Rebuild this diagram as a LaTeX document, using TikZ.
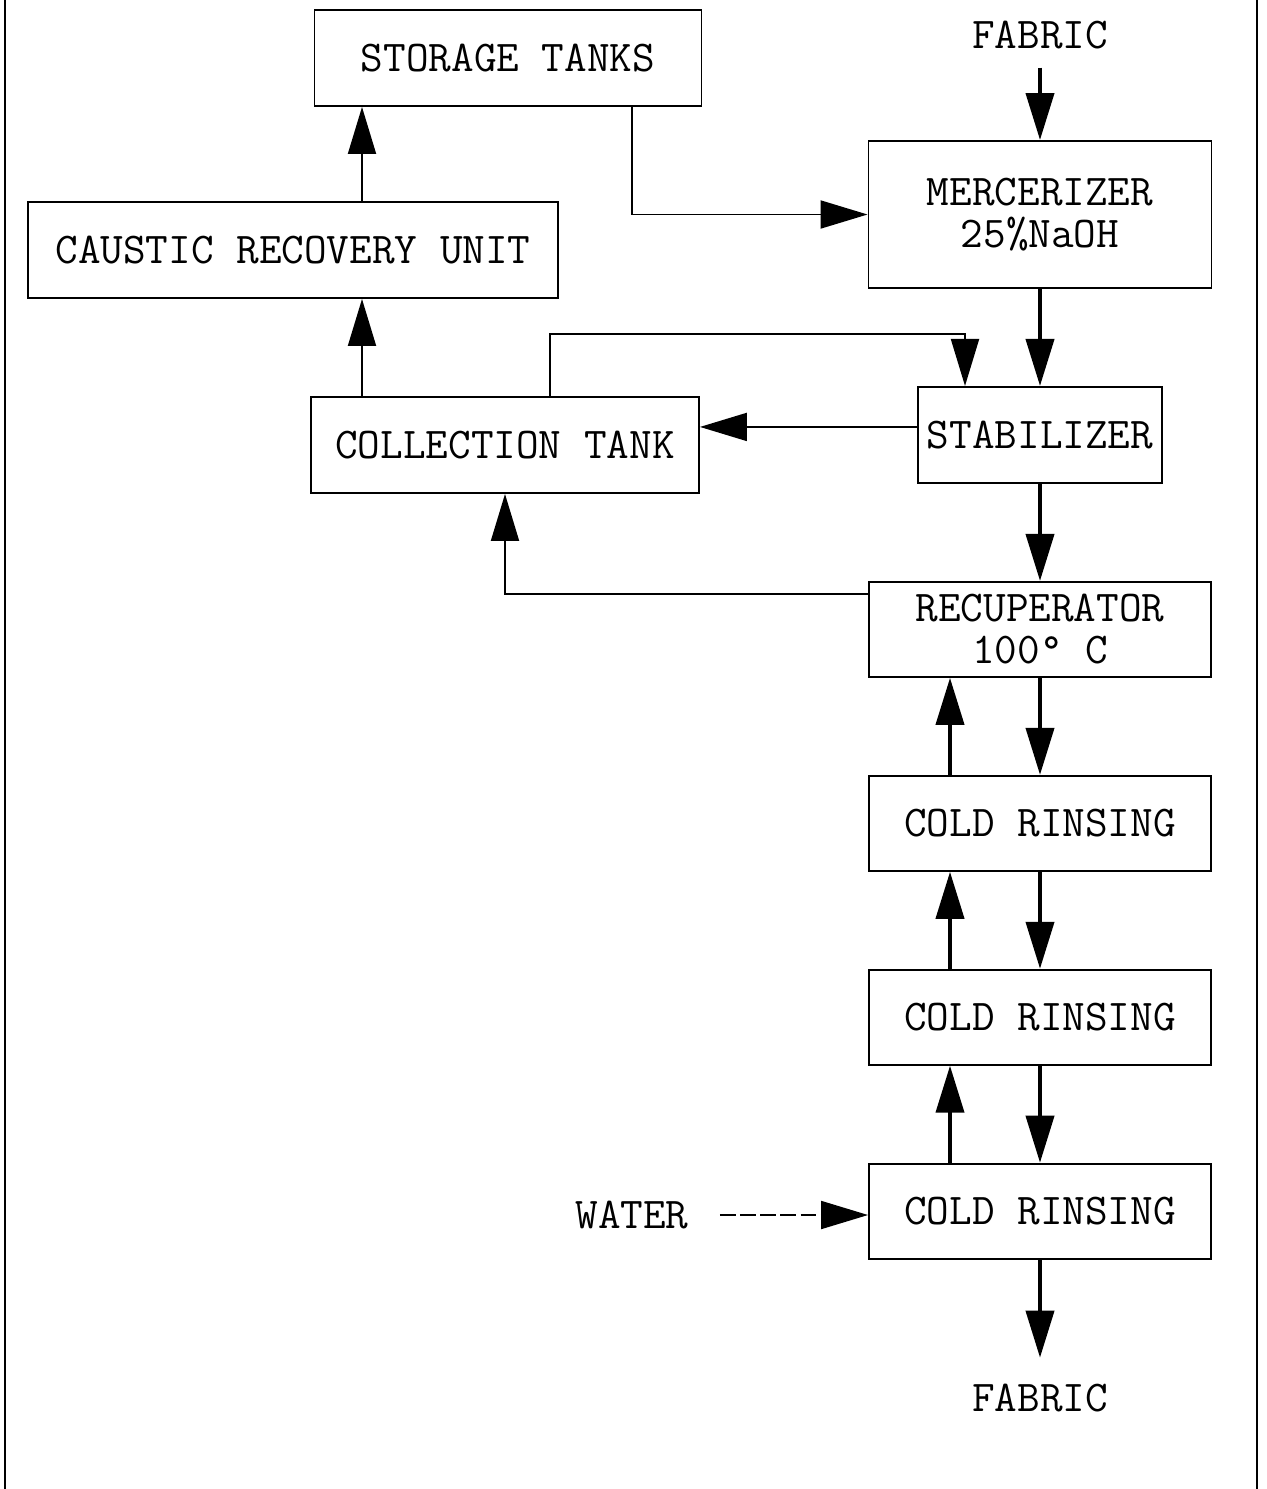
\documentclass[tikz,border=0pt]{standalone}
\usepackage{tikz}
\usetikzlibrary{arrows.meta, positioning}

\begin{document}
\begin{tikzpicture}[
  node distance=1.94cm,
  box/.style={draw, rectangle, line width=1.1pt, inner sep=0pt, align=center,
              font=\ttfamily\fontsize{25}{24}\selectfont},
  lbl/.style={font=\ttfamily\fontsize{25}{24}\selectfont},
  arr/.style={-{Triangle[length=0.94cm, width=0.56cm]}, line width=1.1pt},
  flow/.style={-{Triangle[length=0.94cm, width=0.56cm]}, line width=2.3pt}
]
  \useasboundingbox (0,0) rectangle (25.34,-29.78);
  % side rules of the page
  \draw[line width=1pt] (0.1,0) -- (0.1,-29.78);
  \draw[line width=1pt] (25.14,0) -- (25.14,-29.78);

  % main line
  \node[box, minimum width=6.86cm, minimum height=2.94cm] (mer) at (20.8,-4.29) {MERCERIZER\\25\%NaOH};
  \node[lbl, above=1.7cm of mer] (fabin) {FABRIC};
  \node[box, minimum width=4.88cm, minimum height=1.92cm, below=of mer] (stab) {STABILIZER};
  \node[box, minimum width=6.84cm, minimum height=1.9cm, below=of stab] (rec) {RECUPERATOR\\100° C};
  \node[box, minimum width=6.84cm, minimum height=1.9cm, below=of rec] (cold1) {COLD RINSING};
  \node[box, minimum width=6.84cm, minimum height=1.9cm, below=of cold1] (cold2) {COLD RINSING};
  \node[box, minimum width=6.84cm, minimum height=1.9cm, below=of cold2] (cold3) {COLD RINSING};
  \node[lbl, below=2.36cm of cold3] (fabout) {FABRIC};
  \node[lbl] (water) at (12.64,-24.3) {WATER};

  % caustic recovery side
  \node[box, minimum width=7.74cm, minimum height=1.92cm] (stor) at (10.16,-1.16) {STORAGE TANKS};
  \node[box, minimum width=10.6cm, minimum height=1.92cm] (caus) at (5.86,-5.0) {CAUSTIC RECOVERY UNIT};
  \node[box, minimum width=7.76cm, minimum height=1.92cm] (coll) at (10.10,-8.9) {COLLECTION TANK};

  \draw[flow, shorten <=0.25cm] (fabin) -- (mer);
  \draw[flow] (mer) -- (stab);
  \draw[flow] (stab) -- (rec);
  \draw[flow] (rec) -- (cold1);
  \draw[flow] (cold1) -- (cold2);
  \draw[flow] (cold2) -- (cold3);
  \draw[flow, shorten >=0.4cm] (cold3) -- (fabout);
  \draw[flow] ([xshift=-1.8cm]cold1.north) -- ([xshift=-1.8cm]rec.south);
  \draw[flow] ([xshift=-1.8cm]cold2.north) -- ([xshift=-1.8cm]cold1.south);
  \draw[flow] ([xshift=-1.8cm]cold3.north) -- ([xshift=-1.8cm]cold2.south);
  \draw[arr, dash pattern=on 9pt off 2.5pt, shorten <=0.5cm] (water) -- (water -| cold3.west);

  \draw[arr] ([xshift=2.48cm]stor.south) |- (mer.west);
  \draw[arr] ([xshift=1.38cm]caus.north) -- ([xshift=1.38cm]caus.north |- stor.south);
  \draw[arr] ([xshift=-2.86cm]coll.north) -- ([xshift=-2.86cm]coll.north |- caus.south);
  \draw[arr] ([xshift=0.9cm]coll.north) -- ++(0,1.24) -| ([xshift=-1.5cm]stab.north);
  \draw[arr] ([yshift=0.16cm]stab.west) -- ([yshift=0.16cm]stab.west -| coll.east);
  \draw[arr] ([yshift=0.71cm]rec.west) -| (coll.south);
\end{tikzpicture}
\end{document}
